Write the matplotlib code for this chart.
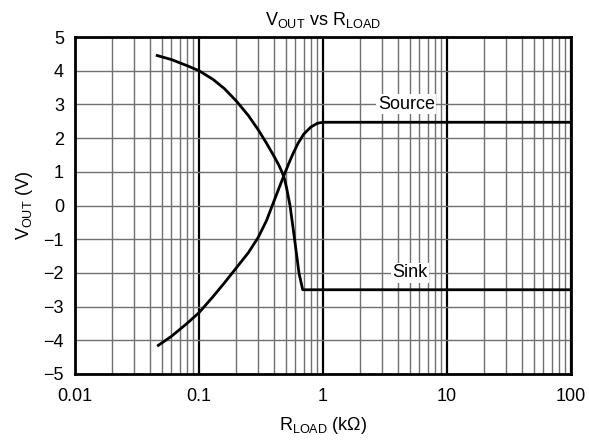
import matplotlib
matplotlib.use("Agg")
import matplotlib.pyplot as plt
from matplotlib.ticker import FixedLocator, NullFormatter

plt.rcParams['font.family'] = ['Liberation Sans', 'DejaVu Sans']
plt.rcParams['mathtext.fontset'] = 'custom'
plt.rcParams['mathtext.rm'] = 'Liberation Sans'

# Data
source_r = [0.047, 0.06, 0.08, 0.1, 0.13, 0.16, 0.2, 0.25, 0.3, 0.35, 0.39, 0.44,
            0.485, 0.53, 0.57, 0.63, 0.7, 0.8, 0.9, 1.0, 100]
source_v = [-4.15, -3.88, -3.5, -3.18, -2.7, -2.3, -1.85, -1.4, -0.95, -0.45, 0.0, 0.5,
            0.9, 1.25, 1.52, 1.85, 2.12, 2.33, 2.44, 2.47, 2.47]
sink_r = [0.046, 0.06, 0.08, 0.1, 0.13, 0.16, 0.2, 0.25, 0.3, 0.35, 0.4, 0.44, 0.47,
          0.49, 0.51, 0.542, 0.585, 0.64, 0.686, 100]
sink_v = [4.45, 4.33, 4.15, 4.0, 3.74, 3.47, 3.1, 2.67, 2.25, 1.85, 1.48, 1.2, 0.97,
          0.78, 0.5, 0.0, -0.9, -2.0, -2.5, -2.5]
x_ticks = [0.01, 0.1, 1, 10, 100]
x_tick_labels = ['0.01', '0.1', '1', '10', '100']
y_ticks = list(range(-5, 6))
y_tick_labels = [str(v).replace('-', '\u2212') for v in y_ticks]

fig = plt.figure(figsize=(5.89, 4.47), dpi=100)
ax = fig.add_axes([75/589, 1-374/447, 496/589, 337/447])
ax.set_xscale('log')
ax.set_xlim(0.01, 100)
ax.set_ylim(-5, 5)

ax.xaxis.set_major_locator(FixedLocator(x_ticks))
ax.set_xticklabels(x_tick_labels)
minor = [m * 10.0**e for e in range(-2, 2) for m in range(2, 10)]
ax.xaxis.set_minor_locator(FixedLocator(minor))
ax.xaxis.set_minor_formatter(NullFormatter())
ax.set_yticks(y_ticks)
ax.set_yticklabels(y_tick_labels)

ax.grid(which='minor', axis='x', color='#707070', lw=1.0)
ax.grid(which='major', axis='x', color='black', lw=1.6)
ax.grid(which='major', axis='y', color='#707070', lw=1.0)
ax.set_axisbelow(True)

ax.tick_params(which='both', length=0, labelsize=13)
ax.tick_params(axis='x', pad=10)
ax.tick_params(axis='y', pad=8)
for s in ax.spines.values():
    s.set_linewidth(2)
    s.set_color('black')

ax.plot(source_r, source_v, color='black', lw=2, solid_joinstyle='round', zorder=3)
ax.plot(sink_r, sink_v, color='black', lw=2, solid_joinstyle='round', zorder=3)

bbox = dict(facecolor='white', edgecolor='none', pad=1.0)
ax.text(4.7, 3, 'Source', ha='center', va='center', fontsize=13, bbox=bbox, zorder=4)
ax.text(5.0, -2, 'Sink', ha='center', va='center', fontsize=13, bbox=bbox, zorder=4)

ax.set_title(r'V$_{\mathrm{OUT}}$ vs R$_{\mathrm{LOAD}}$', fontsize=13, pad=9)
ax.set_xlabel(r'R$_{\mathrm{LOAD}}$ (k$\Omega$)', fontsize=13, labelpad=7)
ax.set_ylabel(r'V$_{\mathrm{OUT}}$ (V)', fontsize=13, labelpad=6)

fig.savefig('out.png', dpi=100)
